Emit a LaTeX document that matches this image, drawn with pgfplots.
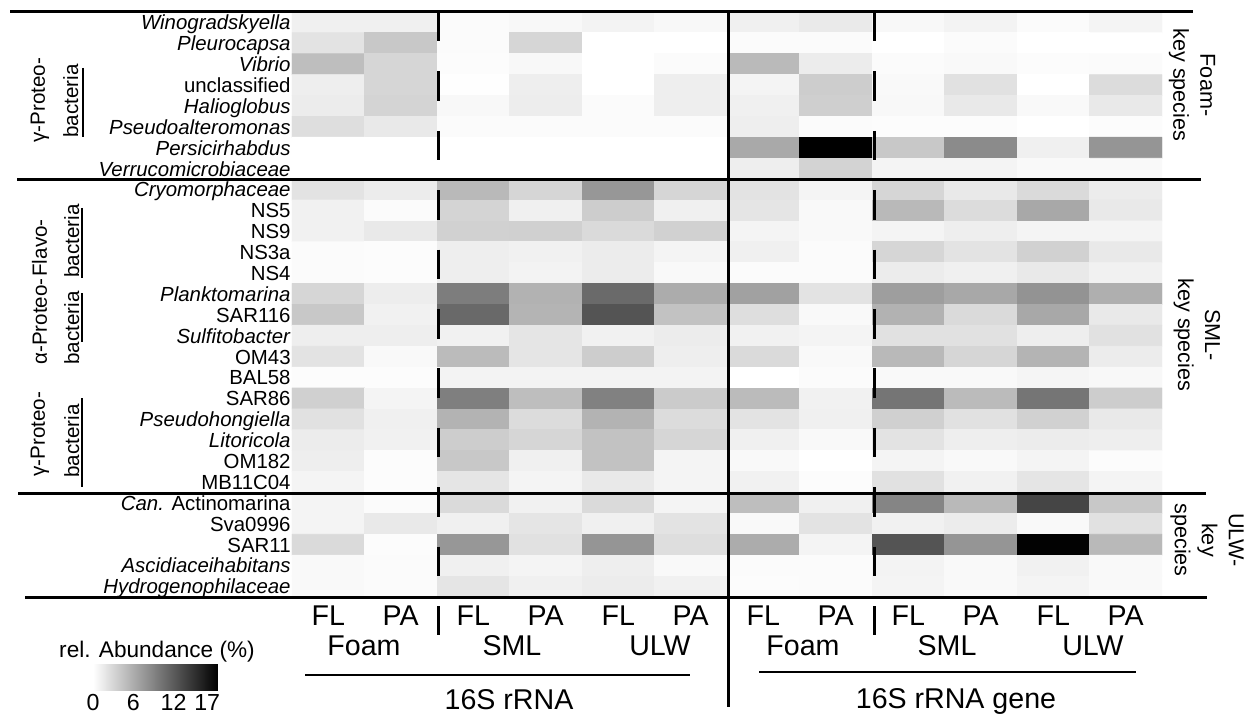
\documentclass[border=0pt]{standalone}
\usepackage{fontspec}
\setmainfont{Liberation Sans}
\usepackage{pgfplots}
\pgfplotsset{compat=1.18}
\newcommand{\grp}{\fontsize{10.3}{12}\selectfont}
\newcommand{\rlab}{\fontsize{10.8}{13.5}\selectfont}
\newcommand{\blab}{\fontsize{14.3}{17}\selectfont}
\begin{document}
\begin{tikzpicture}
\path[use as bounding box] (0,0) rectangle (627.5pt,357pt);
\begin{axis}[
  at={(146pt,58.5pt)}, anchor=south west,
  scale only axis, width=435pt, height=292.5pt,
  xmin=-0.5, xmax=11.5, ymin=-0.5, ymax=27.5,
  axis line style={draw=none},
  major tick length=0pt,
  xtick={0,...,11},
  xticklabels={FL,PA,FL,PA,FL,PA,FL,PA,FL,PA,FL,PA},
  xticklabel style={font=\blab, anchor=base, yshift=-14pt, inner sep=0pt},
  ytick={0,...,27},
  yticklabels={\textit{Hydrogenophilaceae},\textit{Ascidiaceihabitans},SAR11,Sva0996,\textit{Can.} Actinomarina,MB11C04,OM182,\textit{Litoricola},\textit{Pseudohongiella},SAR86,BAL58,OM43,\textit{Sulfitobacter},SAR116,\textit{Planktomarina},NS4,NS3a,NS9,NS5,\textit{Cryomorphaceae},\textit{Verrucomicrobiaceae},\textit{Persicirhabdus},\textit{Pseudoalteromonas},\textit{Halioglobus},unclassified,\textit{Vibrio},\textit{Pleurocapsa},\textit{Winogradskyella}},
  yticklabel style={font=\fontsize{10.2}{12}\selectfont, anchor=base east, yshift=-3.65pt, xshift=-0.5pt, inner sep=0pt},
  colormap={wb}{rgb255=(255,255,255) rgb255=(0,0,0)},
  point meta min=0, point meta max=18.6,
  colorbar horizontal,
  colorbar style={
    at={(parent axis.south west)}, anchor=north west,
    xshift=-99.5pt, yshift=-25pt,
    scale only axis, width=62.5pt, height=13pt,
    xtick={0,6,12,17},
    xticklabel style={font=\fontsize{11.6}{13}\selectfont, anchor=north, inner sep=0pt, yshift=-2pt},
    /pgf/number format/assume math mode=true,
    axis line style={draw=none},
    major tick length=0pt,
  },
]
\addplot[matrix plot*, mesh/cols=12, point meta=explicit] table[row sep=\\, meta=v] {
x y v\\
0 27 1.1\\ 1 27 1.1\\ 2 27 0.3\\ 3 27 0.5\\ 4 27 0.9\\ 5 27 0.5\\ 6 27 1.1\\ 7 27 1.5\\ 8 27 0.5\\ 9 27 0.9\\ 10 27 0.3\\ 11 27 0.8\\
0 26 2.0\\ 1 26 4.0\\ 2 26 0.3\\ 3 26 3.0\\ 4 26 0.0\\ 5 26 0.0\\ 6 26 0.3\\ 7 26 0.3\\ 8 26 0.0\\ 9 26 0.3\\ 10 26 0.0\\ 11 26 0.0\\
0 25 4.7\\ 1 25 3.0\\ 2 25 0.2\\ 3 25 0.5\\ 4 25 0.0\\ 5 25 0.3\\ 6 25 5.0\\ 7 25 1.4\\ 8 25 0.3\\ 9 25 0.4\\ 10 25 0.2\\ 11 25 0.3\\
0 24 1.2\\ 1 24 3.0\\ 2 24 0.1\\ 3 24 1.2\\ 4 24 0.0\\ 5 24 1.2\\ 6 24 0.8\\ 7 24 3.6\\ 8 24 0.4\\ 9 24 2.2\\ 10 24 0.0\\ 11 24 2.5\\
0 23 1.4\\ 1 23 3.1\\ 2 23 0.5\\ 3 23 1.3\\ 4 23 0.3\\ 5 23 1.2\\ 6 23 1.1\\ 7 23 3.5\\ 8 23 0.5\\ 9 23 1.6\\ 10 23 0.4\\ 11 23 1.6\\
0 22 2.4\\ 1 22 1.6\\ 2 22 0.3\\ 3 22 0.3\\ 4 22 0.3\\ 5 22 0.3\\ 6 22 1.2\\ 7 22 0.3\\ 8 22 0.2\\ 9 22 0.2\\ 10 22 0.0\\ 11 22 0.2\\
0 21 0.0\\ 1 21 0.0\\ 2 21 0.0\\ 3 21 0.0\\ 4 21 0.0\\ 5 21 0.0\\ 6 21 6.2\\ 7 21 18.6\\ 8 21 4.0\\ 9 21 8.4\\ 10 21 1.1\\ 11 21 7.7\\
0 20 0.0\\ 1 20 0.0\\ 2 20 0.0\\ 3 20 0.0\\ 4 20 0.0\\ 5 20 0.0\\ 6 20 1.2\\ 7 20 3.2\\ 8 20 0.8\\ 9 20 0.8\\ 10 20 0.4\\ 11 20 0.4\\
0 19 2.0\\ 1 19 1.4\\ 2 19 5.1\\ 3 19 3.0\\ 4 19 7.5\\ 5 19 3.0\\ 6 19 2.0\\ 7 19 0.8\\ 8 19 3.0\\ 9 19 1.6\\ 10 19 2.7\\ 11 19 1.4\\
0 18 1.0\\ 1 18 0.3\\ 2 18 3.1\\ 3 18 1.1\\ 4 18 3.6\\ 5 18 1.1\\ 6 18 1.9\\ 7 18 0.4\\ 8 18 5.1\\ 9 18 2.5\\ 10 18 6.3\\ 11 18 1.6\\
0 17 1.0\\ 1 17 1.6\\ 2 17 3.3\\ 3 17 3.4\\ 4 17 2.7\\ 5 17 3.3\\ 6 17 0.8\\ 7 17 0.4\\ 8 17 0.8\\ 9 17 1.2\\ 10 17 0.8\\ 11 17 0.8\\
0 16 0.3\\ 1 16 0.2\\ 2 16 1.2\\ 3 16 1.0\\ 4 16 1.4\\ 5 16 0.8\\ 6 16 1.1\\ 7 16 0.3\\ 8 16 3.0\\ 9 16 2.0\\ 10 16 3.3\\ 11 16 1.6\\
0 15 0.3\\ 1 15 0.2\\ 2 15 1.2\\ 3 15 0.9\\ 4 15 1.4\\ 5 15 0.4\\ 6 15 0.3\\ 7 15 0.3\\ 8 15 1.4\\ 9 15 1.1\\ 10 15 1.6\\ 11 15 1.0\\
0 14 3.0\\ 1 14 1.3\\ 2 14 9.4\\ 3 14 5.6\\ 4 14 10.8\\ 5 14 6.0\\ 6 14 6.8\\ 7 14 2.0\\ 8 14 7.0\\ 9 14 6.3\\ 10 14 7.8\\ 11 14 5.8\\
0 13 4.0\\ 1 13 1.0\\ 2 13 10.9\\ 3 13 5.4\\ 4 13 12.4\\ 5 13 4.4\\ 6 13 2.4\\ 7 13 0.4\\ 8 13 5.6\\ 9 13 2.7\\ 10 13 6.3\\ 11 13 1.6\\
0 12 1.2\\ 1 12 1.2\\ 2 12 1.0\\ 3 12 1.9\\ 4 12 1.0\\ 5 12 1.4\\ 6 12 1.0\\ 7 12 0.8\\ 8 12 2.2\\ 9 12 2.2\\ 10 12 1.2\\ 11 12 2.2\\
0 11 2.0\\ 1 11 0.4\\ 2 11 4.9\\ 3 11 1.9\\ 4 11 3.6\\ 5 11 1.2\\ 6 11 2.7\\ 7 11 0.4\\ 8 11 5.1\\ 9 11 3.0\\ 10 11 5.4\\ 11 11 1.4\\
0 10 0.2\\ 1 10 0.2\\ 2 10 0.9\\ 3 10 0.9\\ 4 10 0.9\\ 5 10 0.9\\ 6 10 0.0\\ 7 10 0.3\\ 8 10 0.4\\ 9 10 0.4\\ 10 10 0.7\\ 11 10 0.5\\
0 9 3.4\\ 1 9 0.8\\ 2 9 9.3\\ 3 9 4.7\\ 4 9 9.1\\ 5 9 3.8\\ 6 9 4.9\\ 7 9 1.0\\ 8 9 10.0\\ 9 9 4.9\\ 10 9 10.0\\ 11 9 3.6\\
0 8 2.2\\ 1 8 1.1\\ 2 8 5.5\\ 3 8 2.5\\ 4 8 5.5\\ 5 8 2.5\\ 6 8 2.0\\ 7 8 1.1\\ 8 8 3.4\\ 9 8 2.2\\ 10 8 3.3\\ 11 8 1.6\\
0 7 1.4\\ 1 7 1.0\\ 2 7 3.6\\ 3 7 3.0\\ 4 7 4.4\\ 5 7 3.0\\ 6 7 1.1\\ 7 7 0.4\\ 8 7 2.0\\ 9 7 1.2\\ 10 7 1.4\\ 11 7 1.2\\
0 6 1.2\\ 1 6 0.2\\ 2 6 4.0\\ 3 6 1.1\\ 4 6 4.4\\ 5 6 0.8\\ 6 6 0.4\\ 7 6 0.0\\ 8 6 0.8\\ 9 6 0.4\\ 10 6 0.8\\ 11 6 0.2\\
0 5 0.8\\ 1 5 0.2\\ 2 5 1.9\\ 3 5 0.8\\ 4 5 1.6\\ 5 5 0.8\\ 6 5 1.0\\ 7 5 0.2\\ 8 5 2.2\\ 9 5 1.0\\ 10 5 1.9\\ 11 5 0.8\\
0 4 0.8\\ 1 4 0.3\\ 2 4 2.7\\ 3 4 1.0\\ 4 4 2.7\\ 5 4 0.8\\ 6 4 4.7\\ 7 4 1.1\\ 8 4 8.8\\ 9 4 5.1\\ 10 4 13.5\\ 11 4 4.0\\
0 3 0.8\\ 1 3 1.6\\ 2 3 1.1\\ 3 3 1.9\\ 4 3 1.1\\ 5 3 2.0\\ 6 3 0.4\\ 7 3 2.0\\ 8 3 1.0\\ 9 3 1.4\\ 10 3 0.4\\ 11 3 2.2\\
0 2 2.7\\ 1 2 0.2\\ 2 2 7.5\\ 3 2 2.2\\ 4 2 7.7\\ 5 2 2.4\\ 6 2 6.0\\ 7 2 0.8\\ 8 2 12.4\\ 9 2 7.7\\ 10 2 18.3\\ 11 2 5.1\\
0 1 0.4\\ 1 1 0.3\\ 2 1 1.1\\ 3 1 0.8\\ 4 1 1.2\\ 5 1 0.4\\ 6 1 0.3\\ 7 1 0.3\\ 8 1 0.9\\ 9 1 0.4\\ 10 1 1.0\\ 11 1 0.4\\
0 0 0.4\\ 1 0 0.3\\ 2 0 1.9\\ 3 0 1.1\\ 4 0 1.4\\ 5 0 1.0\\ 6 0 0.2\\ 7 0 0.3\\ 8 0 0.8\\ 9 0 0.4\\ 10 0 0.8\\ 11 0 0.4\\
};
\end{axis}
\begin{scope}[x=0.5pt,y=-0.5pt,shift={(0pt,357pt)}]
% frame lines
\draw[line width=1.5pt] (10,12) -- (1193,12);
\draw[line width=1.5pt] (17,180) -- (1201,180);
\draw[line width=1.5pt] (18,493) -- (1206,493);
\draw[line width=1.5pt] (25,597) -- (1207,597);
\draw[line width=1.5pt] (728,12) -- (728,707);
\draw[line width=1.5pt, dash pattern=on 14.75pt off 14.95pt] (438,12) -- (438,635);
\draw[line width=1.5pt, dash pattern=on 14.75pt off 14.95pt] (874,12) -- (874,635);
% group brackets
\draw[line width=1.2pt] (83,68) -- (83,137);
\draw[line width=1.2pt] (82,208) -- (82,278);
\draw[line width=1.2pt] (82,293) -- (82,342);
\draw[line width=1.2pt] (82,398) -- (82,487);
\node[rotate=90, anchor=base west, inner sep=0pt, font=\grp] at (45,143) {γ-Proteo-};
\node[rotate=90, anchor=base west, inner sep=0pt, font=\grp] at (78,138) {bacteria};
\node[rotate=90, anchor=base west, inner sep=0pt, font=\grp] at (47,277) {Flavo-};
\node[rotate=90, anchor=base west, inner sep=0pt, font=\grp] at (79,278) {bacteria};
\node[rotate=90, anchor=base west, inner sep=0pt, font=\grp] at (47,365) {α-Proteo-};
\node[rotate=90, anchor=base west, inner sep=0pt, font=\grp] at (79,365) {bacteria};
\node[rotate=90, anchor=base west, inner sep=0pt, font=\grp] at (45,477) {γ-Proteo-};
\node[rotate=90, anchor=base west, inner sep=0pt, font=\grp] at (79,478) {bacteria};
% right labels
\node[rotate=-90, align=center, inner sep=0pt, font=\rlab] at (1192,85) {Foam-\\key species};
\node[rotate=-90, align=center, inner sep=0pt, font=\rlab] at (1197,335) {SML-\\key species};
\node[rotate=-90, align=center, inner sep=0pt, font=\rlab] at (1207,540) {ULW-\\key\\species};
% bottom labels
\node[anchor=base, inner sep=0pt, font=\blab] at (364,655) {Foam};
\node[anchor=base, inner sep=0pt, font=\blab] at (512,655) {SML};
\node[anchor=base, inner sep=0pt, font=\blab] at (660,655) {ULW};
\node[anchor=base, inner sep=0pt, font=\blab] at (803,655) {Foam};
\node[anchor=base, inner sep=0pt, font=\blab] at (947,655) {SML};
\node[anchor=base, inner sep=0pt, font=\blab] at (1093,655) {ULW};
\draw[line width=1pt] (305,675) -- (690,675);
\draw[line width=1pt] (759,672) -- (1136,672);
\node[anchor=base, inner sep=0pt, font=\blab] at (509,709) {16S rRNA};
\node[anchor=base, inner sep=0pt, font=\blab] at (956,708) {16S rRNA gene};
\node[inner sep=0pt, font=\fontsize{11.3}{13}\selectfont] at (157,652) {rel. Abundance (\%)};
\end{scope}
\end{tikzpicture}
\end{document}
